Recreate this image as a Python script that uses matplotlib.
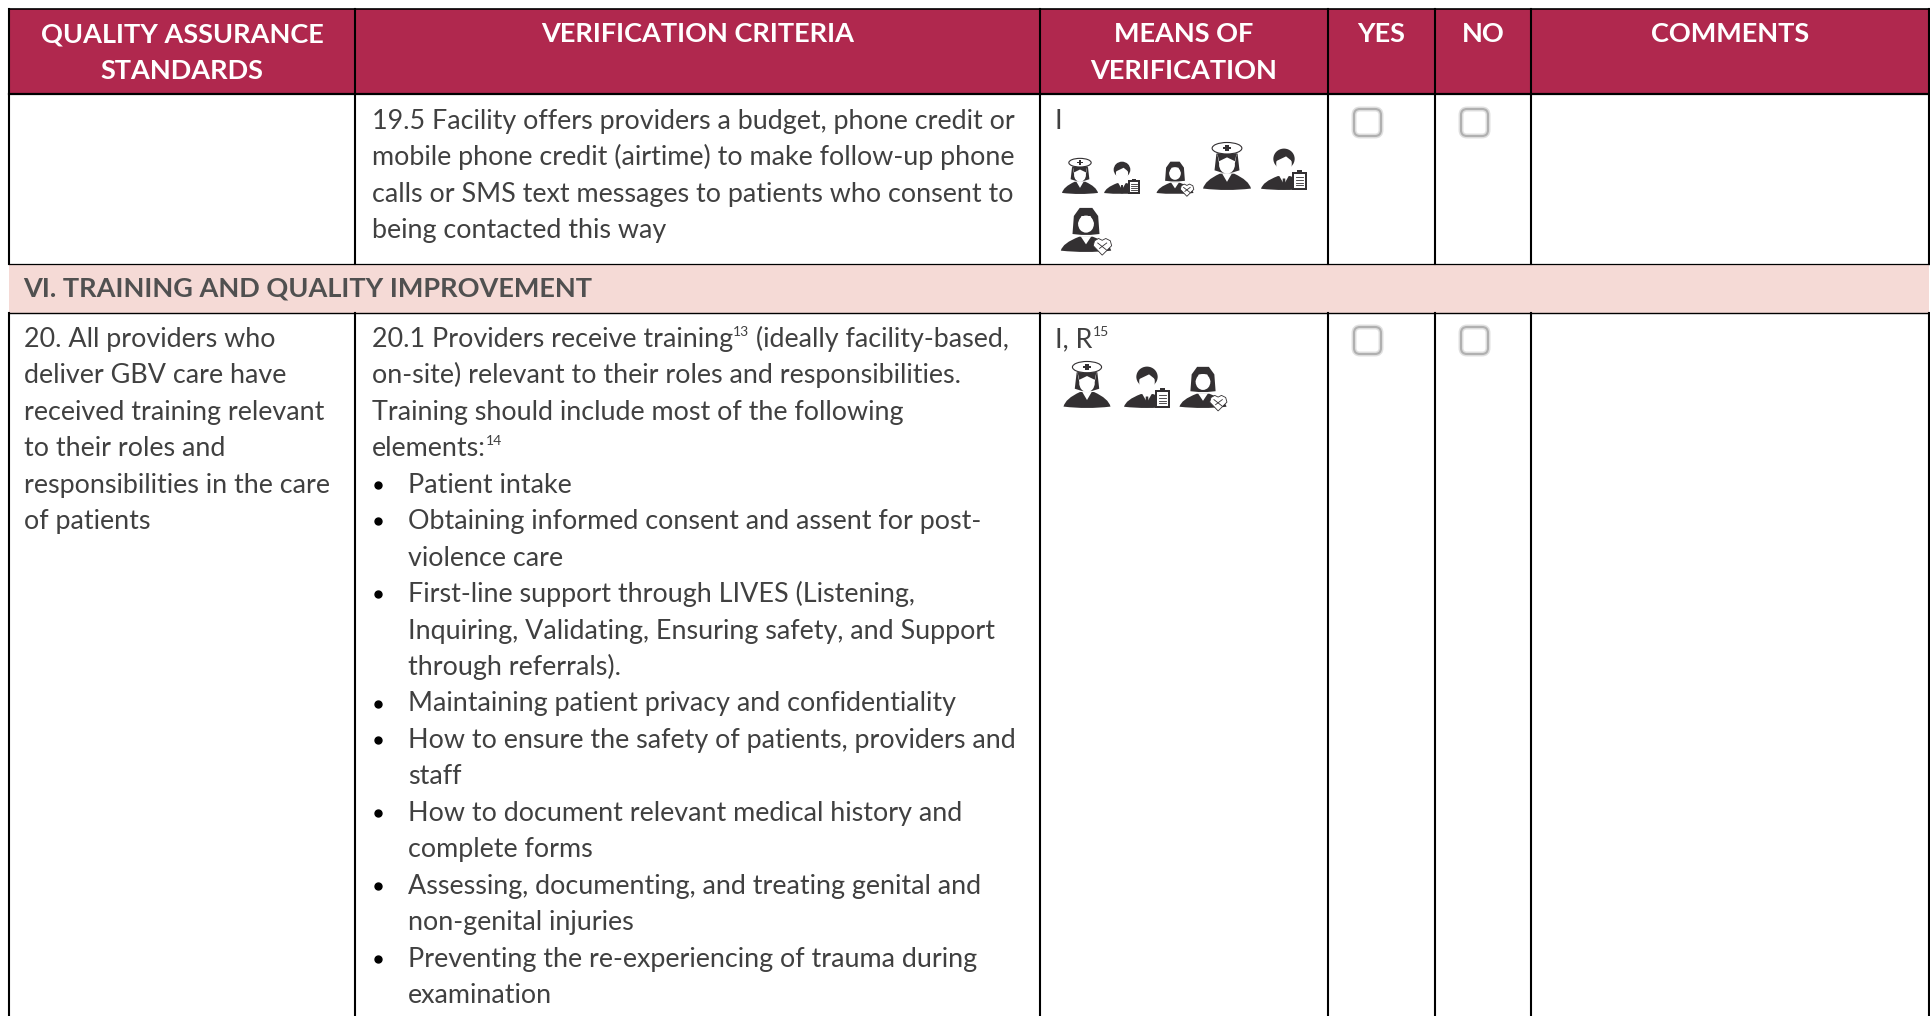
import matplotlib
matplotlib.use('Agg')
import matplotlib.pyplot as plt
from matplotlib.patches import Rectangle, FancyBboxPatch, Ellipse, PathPatch, Polygon
from matplotlib.path import Path

plt.rcParams['font.family'] = ['Lato', 'DejaVu Sans']

W, H = 1931, 1016
DARK = '#333032'
TEXT = '#404040'
RED = '#B0284E'
PINK = '#F5DAD6'

col_edges = [9, 355, 1040, 1328, 1435, 1531, 1929]
header_labels = ['QUALITY ASSURANCE\nSTANDARDS', 'VERIFICATION CRITERIA', 'MEANS OF\nVERIFICATION',
                 'YES', 'NO', 'COMMENTS']
band_label = 'VI. TRAINING AND QUALITY IMPROVEMENT'

row1_lines = ['19.5 Facility offers providers a budget, phone credit or',
              'mobile phone credit (airtime) to make follow-up phone',
              'calls or SMS text messages to patients who consent to',
              'being contacted this way']
standard_lines = ['20. All providers who', 'deliver GBV care have', 'received training relevant',
                  'to their roles and', 'responsibilities in the care', 'of patients']
# (text, bullet, superscript, text after it)
criteria_lines = [('20.1 Providers receive training', False, '13', ' (ideally facility-based,'),
                  ('on-site) relevant to their roles and responsibilities.', False, '', ''),
                  ('Training should include most of the following', False, '', ''),
                  ('elements:', False, '14', ''),
                  ('Patient intake', True, '', ''),
                  ('Obtaining informed consent and assent for post-', True, '', ''),
                  ('violence care', False, '', ''),
                  ('First-line support through LIVES (Listening,', True, '', ''),
                  ('Inquiring, Validating, Ensuring safety, and Support', False, '', ''),
                  ('through referrals).', False, '', ''),
                  ('Maintaining patient privacy and confidentiality', True, '', ''),
                  ('How to ensure the safety of patients, providers and', True, '', ''),
                  ('staff', False, '', ''),
                  ('How to document relevant medical history and', True, '', ''),
                  ('complete forms', False, '', ''),
                  ('Assessing, documenting, and treating genital and', True, '', ''),
                  ('non-genital injuries', False, '', ''),
                  ('Preventing the re-experiencing of trauma during', True, '', ''),
                  ('examination', False, '', '')]

# kind, centre x, bottom y, height
icons = [('nurse', 1080, 194, 36), ('man', 1122, 194, 32), ('woman', 1175, 194, 33),
         ('nurse', 1227, 190, 48), ('man', 1284, 190, 41), ('woman', 1086, 252, 45),
         ('nurse', 1087, 408, 47), ('man', 1147, 408, 41), ('woman', 1203, 408, 42)]
boxes = [(1352, 107), (1459, 107), (1352, 325), (1459, 325)]

fig = plt.figure(figsize=(W / 100, H / 100), dpi=100)
ax = fig.add_axes([0, 0, 1, 1])
ax.set_xlim(0, W)
ax.set_ylim(H, 0)
ax.axis('off')

FS = 19.4
LINE = 36.45


def shoulders(cx, bot, h, hw):
    verts = [(-hw, 0.03), (-hw + 0.04, 0.2), (-0.15, 0.34), (0.15, 0.34),
             (hw - 0.04, 0.2), (hw, 0.03), (0, -0.03), (-hw, 0.03), (-hw, 0.03)]
    codes = [Path.MOVETO, Path.CURVE3, Path.CURVE3, Path.LINETO,
             Path.CURVE3, Path.CURVE3, Path.CURVE3, Path.CURVE3, Path.CLOSEPOLY]
    pts = [(cx + u * h, bot - v * h) for u, v in verts]
    ax.add_patch(PathPatch(Path(pts, codes), fc=DARK, ec='none', zorder=3))


def draw_icon(kind, cx, bot, h):
    def el(u, v, ru, rv, fc, ec='none', lw=0, z=4):
        ax.add_patch(Ellipse((cx + u * h, bot - v * h), 2 * ru * h, 2 * rv * h, fc=fc, ec=ec, lw=lw, zorder=z))

    def poly(pts, fc, ec='none', lw=0, z=4):
        ax.add_patch(Polygon([(cx + u * h, bot - v * h) for u, v in pts], fc=fc, ec=ec, lw=lw, zorder=z))

    if kind == 'nurse':
        shoulders(cx, bot, h, 0.5)
        poly([(-0.26, 0.41), (-0.22, 0.76), (0.22, 0.76), (0.26, 0.41), (0.1, 0.36), (-0.1, 0.36)], DARK)
        poly([(-0.1, 0.34), (0, 0.17), (0.1, 0.34)], 'white', z=4.5)
        el(0, 0.53, 0.165, 0.19, 'white', z=5)
        poly([(-0.165, 0.56), (0.165, 0.56), (0.2, 0.74), (-0.2, 0.74)], 'white', z=5)
        poly([(-0.165, 0.6), (0, 0.68), (0.165, 0.6), (0.2, 0.76), (-0.2, 0.76)], DARK, z=5.1)
        el(0, 0.87, 0.31, 0.12, 'white', DARK, 0.8, z=6)
        poly([(-0.04, 0.81), (0.04, 0.81), (0.04, 0.85), (0.08, 0.85), (0.08, 0.9), (0.04, 0.9),
              (0.04, 0.94), (-0.04, 0.94), (-0.04, 0.9), (-0.08, 0.9), (-0.08, 0.85), (-0.04, 0.85)], DARK, z=7)
    elif kind == 'man':
        shoulders(cx, bot, h, 0.56)
        poly([(-0.12, 0.35), (0, 0.14), (0.12, 0.35)], 'white', z=4.5)
        poly([(-0.03, 0.28), (0.03, 0.28), (0.04, 0.02), (-0.04, 0.02)], DARK, z=4.6)
        el(0, 0.76, 0.26, 0.25, DARK)
        el(0, 0.64, 0.19, 0.24, 'white', z=5)
        poly([(-0.2, 0.7), (0.05, 0.82), (0.2, 0.7), (0.2, 0.9), (-0.2, 0.9)], DARK, z=5.1)
        # clipboard
        poly([(0.2, 0.0), (0.56, 0.0), (0.56, 0.45), (0.2, 0.45)], DARK, z=6)
        poly([(0.25, 0.05), (0.51, 0.05), (0.51, 0.39), (0.25, 0.39)], 'white', z=6.1)
        poly([(0.31, 0.38), (0.45, 0.38), (0.45, 0.48), (0.31, 0.48)], DARK, z=6.2)
        for v in (0.32, 0.25, 0.18, 0.11):
            ax.plot([cx + 0.29 * h, cx + 0.47 * h], [bot - v * h, bot - v * h], color=DARK, lw=0.6, zorder=7)
    else:
        shoulders(cx, bot, h, 0.56)
        poly([(-0.12, 0.35), (0, 0.17), (0.12, 0.35)], 'white', z=4.5)
        poly([(-0.3, 0.4), (-0.27, 0.8), (-0.14, 0.98), (0.14, 0.98), (0.27, 0.8), (0.3, 0.4), (0.1, 0.38), (-0.1, 0.38)], DARK)
        el(0, 0.62, 0.175, 0.19, 'white', z=5)
        poly([(-0.175, 0.62), (0.175, 0.62), (0.1, 0.8), (-0.1, 0.8)], 'white', z=5)
        # handshake heart
        poly([(0.16, 0.14), (0.36, -0.07), (0.57, 0.14), (0.54, 0.25), (0.44, 0.3), (0.36, 0.26),
              (0.28, 0.3), (0.19, 0.25)], 'white', DARK, 0.6, z=6)
        ax.plot([cx + 0.26 * h, cx + 0.45 * h], [bot - 0.2 * h, bot - 0.05 * h], color=DARK, lw=0.6, zorder=7)
        ax.plot([cx + 0.3 * h, cx + 0.46 * h], [bot - 0.08 * h, bot - 0.2 * h], color=DARK, lw=0.6, zorder=7)


def put_line(x, y, text, sup, tail):
    t = ax.text(x, y, text, fontsize=FS, color=TEXT, va='baseline')
    if sup:
        r = fig.canvas.get_renderer()
        x2 = t.get_window_extent(r).x1
        s = ax.text(x2, y - 11, sup, fontsize=10, color=TEXT, va='baseline')
        if tail:
            ax.text(s.get_window_extent(r).x1, y, tail, fontsize=FS, color=TEXT, va='baseline')


# header and band fills
ax.add_patch(Rectangle((col_edges[0], 9), col_edges[-1] - col_edges[0], 85, fc=RED, ec='none', zorder=1))
ax.add_patch(Rectangle((col_edges[0], 264), col_edges[-1] - col_edges[0], 49, fc=PINK, ec='none', zorder=1))

# rules
ax.plot([col_edges[0], col_edges[-1]], [9, 9], color='black', lw=1.2, zorder=2)
ax.plot([col_edges[0], col_edges[-1]], [94, 94], color='black', lw=1.6, zorder=2)
ax.plot([col_edges[0], col_edges[-1]], [263.5, 263.5], color='black', lw=0.9, zorder=2)
ax.plot([col_edges[0], col_edges[-1]], [313, 313], color='black', lw=1.0, zorder=2)
for x in col_edges:
    ax.plot([x, x], [9, 264], color='black', lw=1.5, zorder=2)
    ax.plot([x, x], [313, H], color='black', lw=1.5, zorder=2)

# header labels
for i, label in enumerate(header_labels):
    cx = (col_edges[i] + col_edges[i + 1]) / 2
    for j, part in enumerate(label.split('\n')):
        ax.text(cx, 42.5 + j * 36.5, part, fontsize=19.5, fontweight='bold', color='white',
                ha='center', va='baseline', zorder=3)

ax.text(23, 297, band_label, fontsize=19.5, fontweight='bold', color='#505050', va='baseline', zorder=3)

for i, line in enumerate(row1_lines):
    put_line(372, 129 + i * LINE, line, '', '')
put_line(1055, 129, 'I', '', '')
put_line(1055, 347, 'I, R', '15', '')

for i, line in enumerate(standard_lines):
    put_line(24, 347 + i * LINE, line, '', '')

for i, (line, bullet, sup, tail) in enumerate(criteria_lines):
    y = 347 + i * LINE
    if bullet:
        ax.plot([378.5], [y - 8], 'o', ms=5, color='black', zorder=3)
        put_line(408, y, line, sup, tail)
    elif i < 4:
        put_line(372, y, line, sup, tail)
    else:
        put_line(408, y, line, sup, tail)

for kind, cx, bot, h in icons:
    draw_icon(kind, cx, bot, h)

for x, y in boxes:
    for lw, col in ((3.6, '#e0e0e0'), (1.5, '#b0b0b0')):
        ax.add_patch(FancyBboxPatch((x + 2, y + 2), 27, 27, boxstyle='round,pad=0,rounding_size=6',
                                    fc='white' if lw > 2 else 'none', ec=col, lw=lw, zorder=3))

fig.savefig('out.png', dpi=100)
